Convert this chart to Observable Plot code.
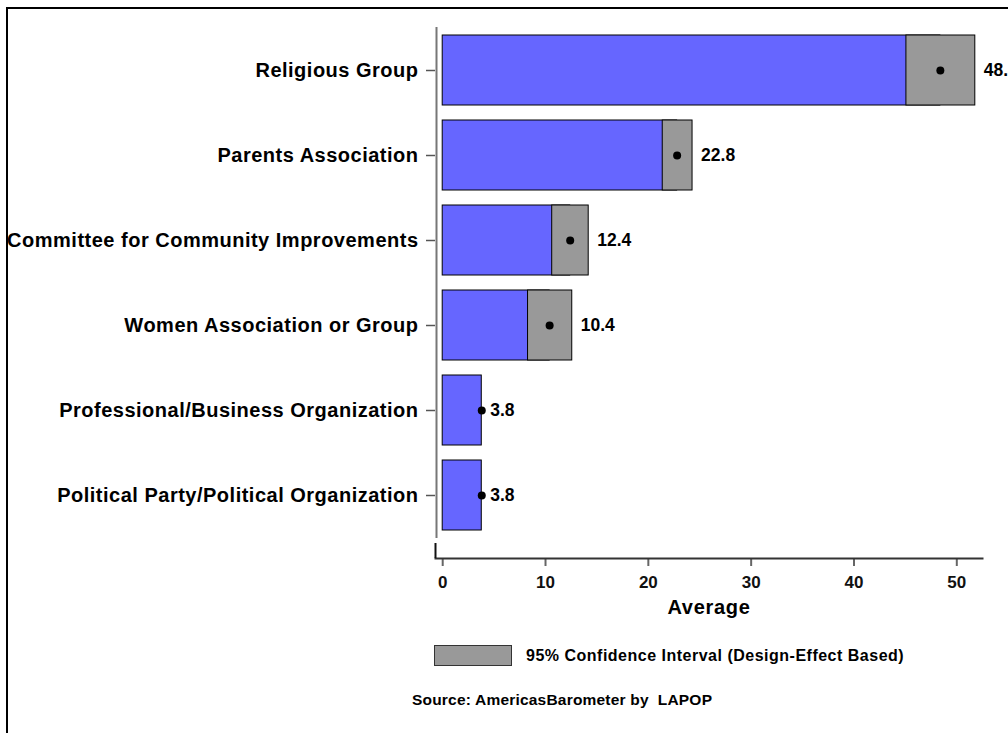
<!DOCTYPE html>
<html>
<head>
<meta charset="utf-8">
<script src="https://cdn.jsdelivr.net/npm/d3@7"></script>
<script src="https://cdn.jsdelivr.net/npm/@observablehq/plot@0.6"></script>
<style>
  html, body { margin: 0; padding: 0; background: #fff; }
  body { width: 1008px; height: 733px; overflow: hidden; position: relative;
         font-family: "Liberation Sans", Arial, Helvetica, sans-serif; font-weight: bold; }
  #chart { position: absolute; left: 0; top: 0; }
  #border { position: absolute; left: 6px; top: 7px; width: 1100px; height: 800px;
            border: 2px solid #000; pointer-events: none; }
  g[aria-label="y-axis tick label"] { letter-spacing: 0.5px; }
  g[aria-label="text"].avg { letter-spacing: 0.7px; }
  .swatch { position: absolute; left: 434px; top: 645px; width: 78px; height: 21px;
            box-sizing: border-box; background: #999999; border: 1px solid #333; }
  .legtext { position: absolute; left: 526px; top: 646px; line-height: 20px;
             font-size: 16px; letter-spacing: 0.5px; color: #000; white-space: pre; }
  .source { position: absolute; left: 412px; top: 690px; line-height: 20px;
            font-size: 15.5px; letter-spacing: 0.2px; color: #000; white-space: pre; }
</style>
</head>
<body>
<div id="chart"></div>
<div class="swatch"></div>
<div class="legtext" id="legtext"></div>
<div class="source" id="source"></div>
<div id="border"></div>
<script>
// ---- data ----
const categories = [
  "Religious Group",
  "Parents Association",
  "Committee for Community Improvements",
  "Women Association or Group",
  "Professional/Business Organization",
  "Political Party/Political Organization"
];
const means  = [48.4, 22.8, 12.4, 10.4, 3.8, 3.8];
const ciLow  = [45.1, 21.4, 10.65, 8.3, 3.8, 3.8];
const ciHigh = [51.8, 24.3, 14.2, 12.6, 3.8, 3.8];
const xTicks = [0, 10, 20, 30, 40, 50];
const xLabel = "Average";
const legendLabel = "95% Confidence Interval (Design-Effect Based)";
const sourceLabel = "Source: AmericasBarometer by  LAPOP";

const data = categories.map((c, i) => ({cat: c, mean: means[i], lo: ciLow[i], hi: ciHigh[i]}));
const xMin = -0.7;

const plot = Plot.plot({
  width: 1008,
  height: 620,
  marginLeft: 435,
  marginRight: 26,
  marginTop: 27,
  marginBottom: 62,
  style: {
    fontFamily: "'Liberation Sans', Arial, Helvetica, sans-serif",
    fontWeight: "bold",
    background: "none",
    color: "#000"
  },
  x: {domain: [xMin, 52.5], label: null},
  y: {domain: categories, paddingInner: 0.1765, paddingOuter: 0.094, insetBottom: 20, label: null},
  marks: [
    Plot.axisX({ticks: xTicks, tickSize: 8, tickPadding: 9, fontSize: 17,
                stroke: "#666", strokeWidth: 2, fill: "#111", label: null}),
    Plot.axisY({tickSize: 9, tickPadding: 8, fontSize: 20,
                stroke: "#555", strokeWidth: 1.5, fill: "#000", label: null}),
    Plot.frame({anchor: "bottom", stroke: "#333", strokeWidth: 2}),
    Plot.ruleX([xMin], {stroke: "#777", strokeWidth: 2, insetBottom: 20, dx: 1}),
    Plot.ruleX([xMin], {stroke: "#111", strokeWidth: 2, insetTop: 516}),
    Plot.barX(data, {x: "mean", y: "cat", fill: "#6666ff", stroke: "#000", strokeWidth: 1}),
    Plot.barX(data, {x1: "lo", x2: "hi", y: "cat", fill: "#999999", stroke: "#000", strokeWidth: 1}),
    Plot.dot(data, {x: "mean", y: "cat", r: 4, fill: "#000", stroke: "none"}),
    Plot.text(data, {x: "hi", y: "cat", text: d => d.mean.toFixed(1), dx: 8.5,
                     textAnchor: "start", fontSize: 17.5, fill: "#000"}),
    Plot.text([xLabel], {frameAnchor: "bottom", dy: 48.7, text: d => d, fontSize: 20,
                         lineAnchor: "middle", fill: "#000", className: "avg"})
  ]
});
document.getElementById("chart").appendChild(plot);
document.getElementById("legtext").textContent = legendLabel;
document.getElementById("source").textContent = sourceLabel;
</script>
</body>
</html>
